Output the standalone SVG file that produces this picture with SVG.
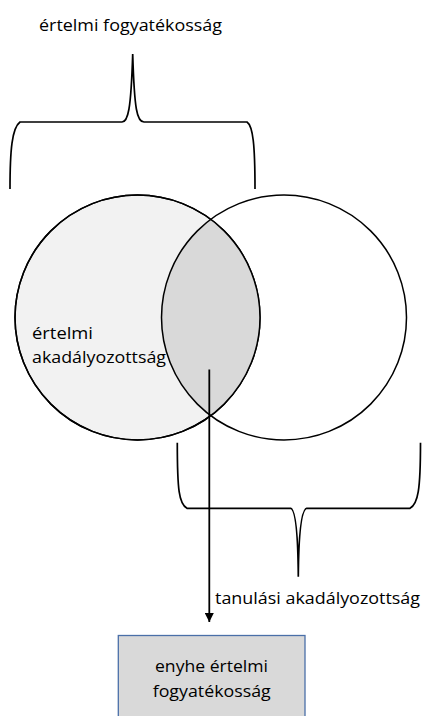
<svg xmlns="http://www.w3.org/2000/svg" width="422" height="716" viewBox="0 0 422 716">
<defs>
<style>
text{font-family:"Open Sans","Liberation Sans",Arial,sans-serif;font-size:17px;fill:#000}
.brace{fill:none;stroke:#000;stroke-width:1.7}
.circ{stroke:#000;stroke-width:1.5}
</style>
<marker id="ah" viewBox="0 0 10 10" refX="10" refY="5" markerWidth="9" markerHeight="9" markerUnits="userSpaceOnUse" orient="auto"><path d="M0,0 L10,5 L0,10 Z" fill="#000"/></marker>
<clipPath id="clipL"><circle cx="137.5" cy="317.5" r="122.5"/></clipPath>
</defs>
<rect width="422" height="716" fill="#fff"/>
<g id="circle-left">
<circle class="circ" cx="137.5" cy="317.5" r="122.5" fill="#f2f2f2"/>
<text x="32" y="339" textLength="61" lengthAdjust="spacingAndGlyphs">értelmi</text>
<text x="32" y="363" textLength="134" lengthAdjust="spacingAndGlyphs">akadályozottság</text>
</g>
<g id="circle-right">
<circle cx="284" cy="317.5" r="122.5" fill="#d9d9d9" clip-path="url(#clipL)"/>
<circle class="circ" cx="284" cy="317.5" r="122.5" fill="none"/>
<circle class="circ" cx="137.5" cy="317.5" r="122.5" fill="none"/>
</g>
<g id="brace-top">
<path class="brace" d="M10,189 C10,150 12,128 20,122 L122,122 C128,122 131,110 132.7,54 C134.4,110 137,122 144,122 L247,122 C253,126 255,145 255,189"/>
<text x="39" y="31" textLength="183" lengthAdjust="spacingAndGlyphs">értelmi fogyatékosság</text>
</g>
<g id="brace-bottom">
<path class="brace" d="M177.3,442.7 C177.3,490 179,504 187,508.3 L290.7,508.3 C296,510 298,540 298.3,576.7 C298.6,540 301,510 306.7,508.3 L410,508.3 C418,504 420.5,490 420.5,442.7"/>
<text x="215" y="604" textLength="205" lengthAdjust="spacingAndGlyphs">tanulási akadályozottság</text>
</g>
<g id="box">
<rect x="118.3" y="635.5" width="186.7" height="100" fill="#d9d9d9" stroke="#4a6fa8" stroke-width="1.3"/>
<text x="155" y="671.7" textLength="113" lengthAdjust="spacingAndGlyphs">enyhe értelmi</text>
<text x="152.7" y="696.7" textLength="118" lengthAdjust="spacingAndGlyphs">fogyatékosság</text>
</g>
<g id="connectors">
<line x1="209.3" y1="369.5" x2="209.3" y2="622" stroke="#000" stroke-width="1.8" marker-end="url(#ah)"/>
</g>
</svg>
